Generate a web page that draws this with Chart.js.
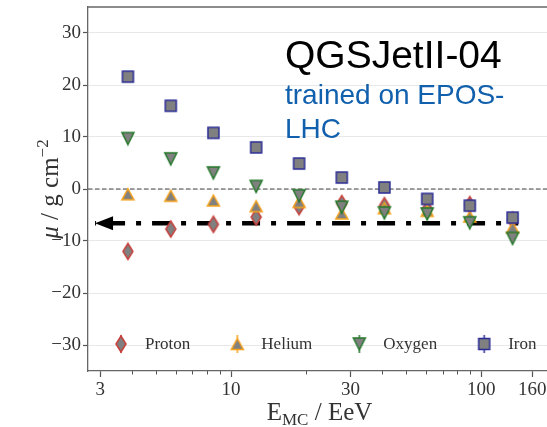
<!DOCTYPE html>
<html>
<head>
<meta charset="utf-8">
<script src="https://cdn.jsdelivr.net/npm/chart.js@4.4.0/dist/chart.umd.min.js"></script>
<style>
  html, body { margin: 0; padding: 0; overflow: hidden; background: #fff; }
  #wrap { width: 560px; height: 427px; }
</style>
</head>
<body>
<div id="wrap"><canvas id="mu" width="560" height="427"></canvas></div>
<script>
// ─── DATA ───────────────────────────────────────────────────────────────────
const energies = [3.87, 5.74, 8.5, 12.6, 18.7, 27.7, 41.0, 60.8, 90.0, 133.4];   // EeV
const protonMu = [-12.0, -7.7, -6.8, -5.4, -3.4, -2.8, -3.2, -3.8, -3.0, -6.0];
const heliumMu = [-1.0, -1.3, -2.2, -3.3, -2.5, -4.7, -3.7, -4.2, -5.3, -7.4];
const oxygenMu = [9.7, 5.8, 3.1, 0.5, -1.3, -3.5, -4.6, -4.8, -6.5, -9.5];
const ironMu   = [21.6, 16.0, 10.8, 8.0, 4.9, 2.2, 0.3, -1.9, -3.2, -5.5];
const xTicks      = [3, 10, 30, 100, 160];
const xMinorTicks = [4, 5, 6, 7, 8, 9, 20, 40, 50, 60, 70, 80, 90];
const yTicks      = [-30, -20, -10, 0, 10, 20, 30];
const arrowMu   = -6.6;           // dash-dot reference level
const arrowSpan = [2.86, 140.6];  // EeV, arrow tip -> line end

// ─── STYLE ──────────────────────────────────────────────────────────────────
const $ = id => document.getElementById(id);
const SERIF = "'Liberation Serif', 'DejaVu Serif', serif";
const SANS  = "'Liberation Sans', Arial, sans-serif";
const INK = '#333';
const FILL = '#808080';
const EDGE = { proton: '#c8403c', helium: '#f7a21b', oxygen: '#23782a', iron: '#2b2b96' };

function markerCanvas(shape, edge, w, h, bar = 0) {
  const c = document.createElement('canvas');
  c.width = w + 4; c.height = Math.max(h, bar * 2) + 4;
  const g = c.getContext('2d');
  const cx = c.width / 2, cy = c.height / 2;
  if (bar) {
    g.strokeStyle = edge; g.lineWidth = 1.5;
    g.beginPath(); g.moveTo(cx, cy - bar); g.lineTo(cx, cy + bar); g.stroke();
  }
  g.beginPath();
  if (shape === 'diamond') {
    g.moveTo(cx, cy - h / 2); g.lineTo(cx + w / 2, cy); g.lineTo(cx, cy + h / 2); g.lineTo(cx - w / 2, cy);
  } else if (shape === 'up') {
    g.moveTo(cx, cy - h / 2); g.lineTo(cx + w / 2, cy + h / 2); g.lineTo(cx - w / 2, cy + h / 2);
  } else if (shape === 'down') {
    g.moveTo(cx, cy + h / 2); g.lineTo(cx + w / 2, cy - h / 2); g.lineTo(cx - w / 2, cy - h / 2);
  } else {
    g.rect(cx - w / 2, cy - h / 2, w, h);
  }
  g.closePath();
  g.fillStyle = FILL; g.fill();
  g.lineWidth = 1.5; g.strokeStyle = edge; g.lineJoin = 'miter'; g.stroke();
  return c;
}

const species = [
  { key: 'proton', label: 'Proton', mu: protonMu, shape: 'diamond', w: 10, h: 16 },
  { key: 'helium', label: 'Helium', mu: heliumMu, shape: 'up',      w: 12, h: 11 },
  { key: 'oxygen', label: 'Oxygen', mu: oxygenMu, shape: 'down',    w: 12, h: 12 },
  { key: 'iron',   label: 'Iron',   mu: ironMu,   shape: 'square',  w: 11, h: 11 },
];
species.forEach(s => {
  s.marker = markerCanvas(s.shape, EDGE[s.key], s.w, s.h);
  s.legendIcon = markerCanvas(s.shape, EDGE[s.key], s.w, s.h, 9);
});

// ─── PLUGINS ────────────────────────────────────────────────────────────────
const frameAndZero = {
  id: 'frameAndZero',
  beforeDatasetsDraw(chart) {
    const { ctx, chartArea: a, scales: { y } } = chart;
    const y0 = y.getPixelForValue(0);
    ctx.save();
    ctx.strokeStyle = '#444'; ctx.lineWidth = 1.2; ctx.setLineDash([4.5, 2.5]);
    ctx.beginPath(); ctx.moveTo(a.left, y0); ctx.lineTo(a.right, y0); ctx.stroke();
    ctx.restore();
  },
  afterDraw(chart) {
    const { ctx, chartArea: a, scales: { x } } = chart;
    ctx.save();
    ctx.strokeStyle = '#666'; ctx.lineWidth = 1.3;
    ctx.beginPath(); ctx.moveTo(a.left, a.top); ctx.lineTo(a.right, a.top); ctx.stroke();
    // minor log ticks
    ctx.strokeStyle = '#555'; ctx.lineWidth = 1;
    xMinorTicks.forEach(v => {
      const px = Math.round(x.getPixelForValue(v)) + 0.5;
      ctx.beginPath(); ctx.moveTo(px, a.bottom); ctx.lineTo(px, a.bottom + 3.5); ctx.stroke();
    });
    ctx.restore();
  }
};

const arrowHead = {
  id: 'arrowHead',
  afterDatasetsDraw(chart) {
    const { ctx, scales: { x, y } } = chart;
    const tx = x.getPixelForValue(arrowSpan[0]), ty = y.getPixelForValue(arrowMu);
    ctx.save();
    ctx.fillStyle = '#000';
    ctx.beginPath();
    ctx.moveTo(tx, ty); ctx.lineTo(tx + 18, ty - 7); ctx.lineTo(tx + 18, ty + 7);
    ctx.closePath(); ctx.fill();
    ctx.restore();
  }
};

function drawRuns(ctx, runs, x0, y0) {
  // runs: [text, font, baselineShift]
  let x = x0;
  runs.forEach(([t, f, dy]) => {
    ctx.font = f;
    ctx.fillText(t, x, y0 + dy);
    x += ctx.measureText(t).width;
  });
}
function runsWidth(ctx, runs) {
  return runs.reduce((w, [t, f]) => { ctx.font = f; return w + ctx.measureText(t).width; }, 0);
}

const annotations = {
  id: 'annotations',
  afterDraw(chart) {
    const { ctx, chartArea: a, scales: { y } } = chart;
    ctx.save();
    ctx.fillStyle = INK;
    ctx.textBaseline = 'alphabetic';
    ctx.textAlign = 'left';

    // axis titles
    const xRuns = [['E', `25px ${SERIF}`, 0], ['MC', `17px ${SERIF}`, 5], [' / EeV', `25px ${SERIF}`, 0]];
    drawRuns(ctx, xRuns, (a.left + a.right) / 2 - runsWidth(ctx, xRuns) / 2, 420);

    const yRuns = [['\u03bc', `italic 25px ${SERIF}`, 0], [' / g cm', `25px ${SERIF}`, 0], ['\u22122', `17px ${SERIF}`, -10]];
    ctx.save();
    ctx.translate(58, (a.top + a.bottom) / 2);
    ctx.rotate(-Math.PI / 2);
    drawRuns(ctx, yRuns, -runsWidth(ctx, yRuns) / 2, 0);
    ctx.restore();

    // legend row inside the plot
    const ly = y.getPixelForValue(-30) - 1;
    let lx = a.left + 33;
    ctx.font = `17px ${SERIF}`;
    ctx.textBaseline = 'middle';
    species.forEach(s => {
      const ic = s.legendIcon;
      ctx.drawImage(ic, lx - ic.width / 2, ly - ic.height / 2);
      ctx.fillText(s.label, lx + 24, ly + 1);
      lx += 24 + ctx.measureText(s.label).width + 47;
    });

    // model labels
    ctx.textBaseline = 'alphabetic';
    ctx.fillStyle = '#000';
    ctx.font = `39px ${SANS}`;
    ctx.fillText('QGSJetII-04', 285, 68);
    ctx.fillStyle = '#1160ad';
    ctx.font = `28px ${SANS}`;
    ctx.fillText('trained on EPOS-', 285, 104);
    ctx.fillText('LHC', 285, 138);
    ctx.restore();
  }
};

// ─── CHART ──────────────────────────────────────────────────────────────────
const pts = arr => energies.map((e, i) => ({ x: e, y: arr[i] }));

new Chart($('mu'), {
  type: 'scatter',
  data: {
    datasets: [
      ...species.slice().reverse().map((s, i) => ({
        label: s.label, data: pts(s.mu), pointStyle: s.marker, pointRadius: 6, order: i,
      })),
      {
        type: 'line', label: 'reference', showLine: true, order: 9,
        data: [{ x: arrowSpan[0], y: arrowMu }, { x: arrowSpan[1], y: arrowMu }],
        borderColor: '#000', borderWidth: 4.5, borderDash: [18, 11, 5, 11], borderDashOffset: 33,
        pointRadius: 0, fill: false,
      },
    ],
  },
  options: {
    responsive: false, animation: false,
    layout: { padding: { top: 7, right: 9, left: 0, bottom: 0 } },
    plugins: { legend: { display: false }, tooltip: { enabled: false } },
    scales: {
      x: {
        type: 'logarithmic', min: 2.68, max: 190,
        afterBuildTicks: s => { s.ticks = xTicks.map(v => ({ value: v, major: true })); },
        afterFit: s => { s.height = 56; s.paddingLeft = 0; s.paddingRight = 0; },
        ticks: { callback: v => String(v), font: { family: SERIF, size: 19 }, color: INK, padding: 2, maxRotation: 0, autoSkip: false },
        grid: { drawOnChartArea: false, tickLength: 6, tickColor: '#555', tickWidth: 1.2 },
        border: { color: '#666', width: 1.3 },
      },
      y: {
        min: -35, max: 35,
        afterBuildTicks: s => { s.ticks = yTicks.map(v => ({ value: v })); },
        afterFit: s => { s.width = 88; s.paddingTop = 0; s.paddingBottom = 0; },
        ticks: { callback: v => v < 0 ? '\u2212' + Math.abs(v) : String(v), font: { family: SERIF, size: 19 }, color: INK, padding: 2 },
        grid: { color: '#e8e8e8', tickColor: '#555', tickLength: 5, tickWidth: 1.2 },
        border: { color: '#666', width: 1.3 },
      },
    },
  },
  plugins: [frameAndZero, arrowHead, annotations],
});
</script>
</body>
</html>
